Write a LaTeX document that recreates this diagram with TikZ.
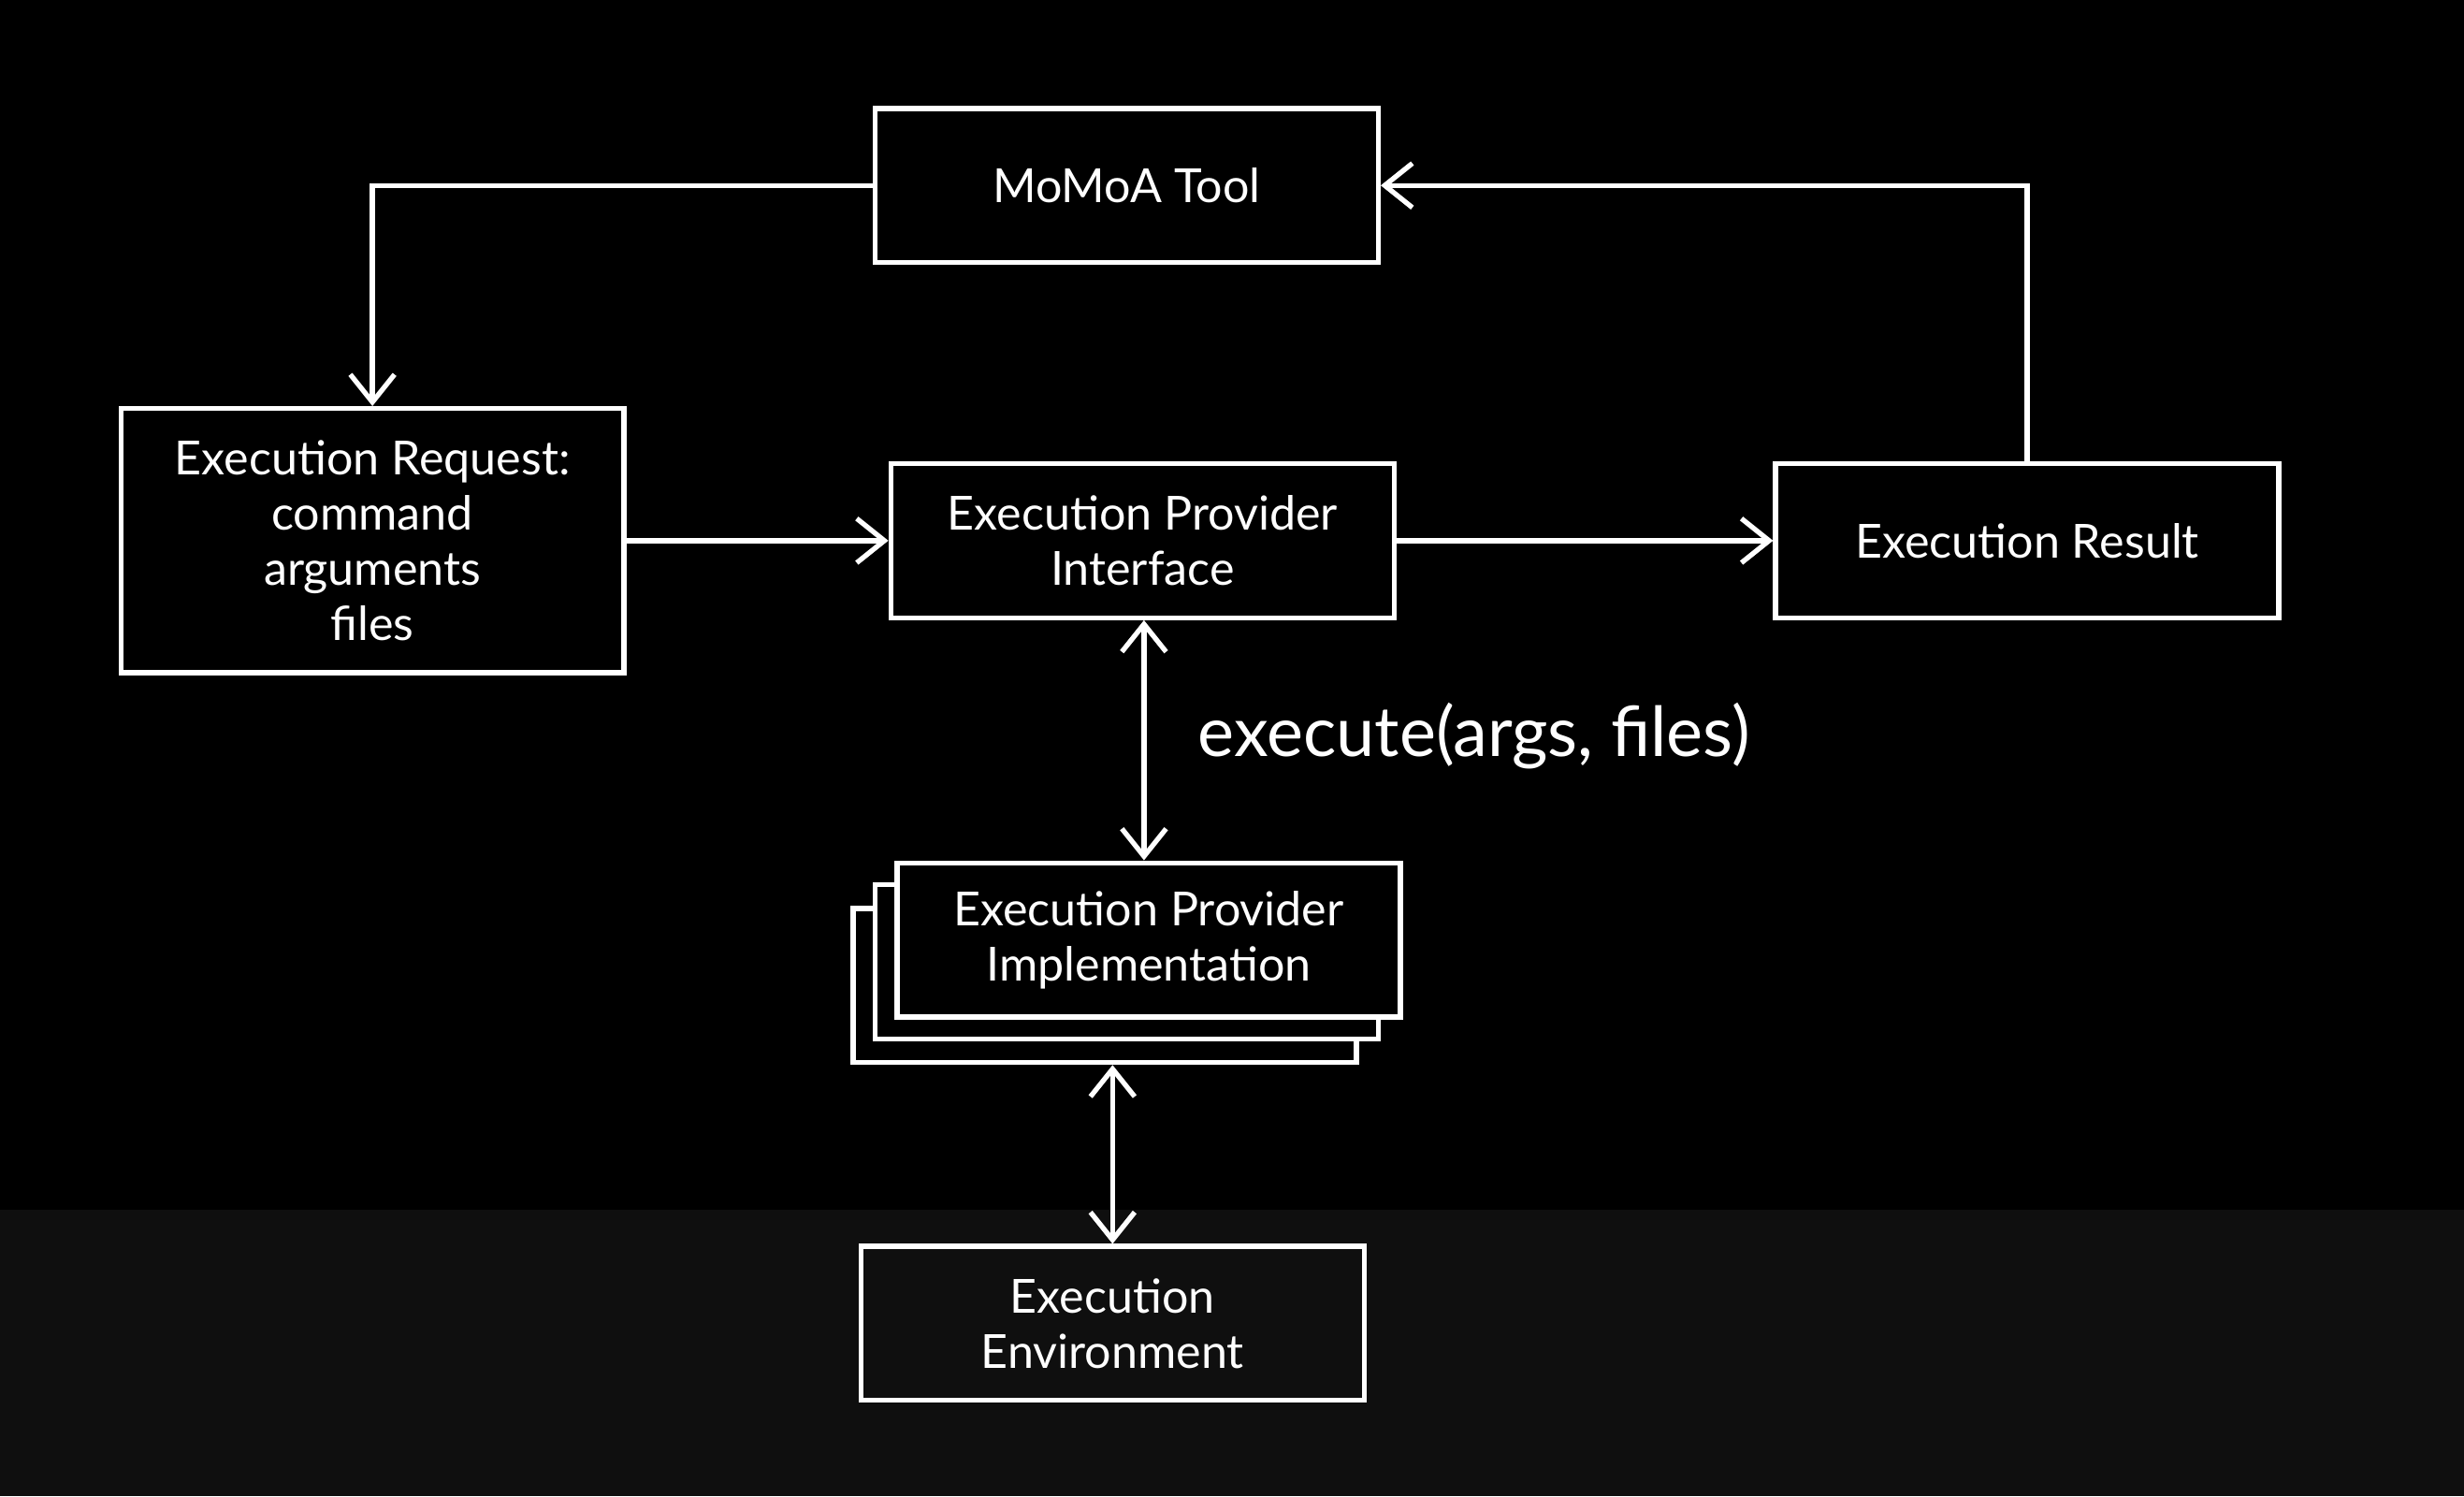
\documentclass[tikz,border=0pt]{standalone}
\usepackage{fontspec}
\setmainfont{Lato}
\usetikzlibrary{arrows.meta}
\begin{document}
\begin{tikzpicture}
  [x=0.01cm,y=-0.01cm,>={Straight Barb[length=5pt,width=8pt]},
   font=\fontsize{8.5}{10}\selectfont,
   box/.style={draw=white,line width=0.9pt,text=white,align=center,minimum width=3.2cm,minimum height=0.98cm,inner sep=2pt},
   link/.style={draw=white,line width=0.9pt}]
  \fill[black] (0,0) rectangle (1568,952);
  \fill[black!94] (0,770) rectangle (1568,952);
  \useasboundingbox (0,0) rectangle (1568,952);

  \node[box] at (717,118) (tool) {MoMoA Tool};
  \node[box,minimum height=1.68cm] at (237,344) (req) {Execution Request:\\command\\arguments\\files};
  \node[box] at (727,344) (iface) {Execution Provider\\Interface};
  \node[box] at (1290,344) (res) {Execution Result};
  % stacked copies behind
  \node[box,fill=black] at (703,627) (impl3) {};
  \node[box,fill=black] at (717,612) (impl2) {};
  \node[box,fill=black] at (731,598) (impl) {Execution Provider\\Implementation};
  \node[box] at (708,842) (env) {Execution\\Environment};

  %flechitas
  \draw[link,->] (tool.west) -| (req.north);
  \draw[link,->] (res.north) |- (tool.east);
  \draw[link,->] (req.east) -- (iface.west);
  \draw[link,->] (iface.east) -- (res.west);
  \draw[link,<->] (iface.south -| 728,0) -- (impl.north -| 728,0);
  \draw[link,<->] (impl3.south -| 708,0) -- (env.north);
  \node[text=white,font=\fontsize{12.5}{14}\selectfont,anchor=west] at (750,468) (call) {execute(args, files)};
\end{tikzpicture}
\end{document}
